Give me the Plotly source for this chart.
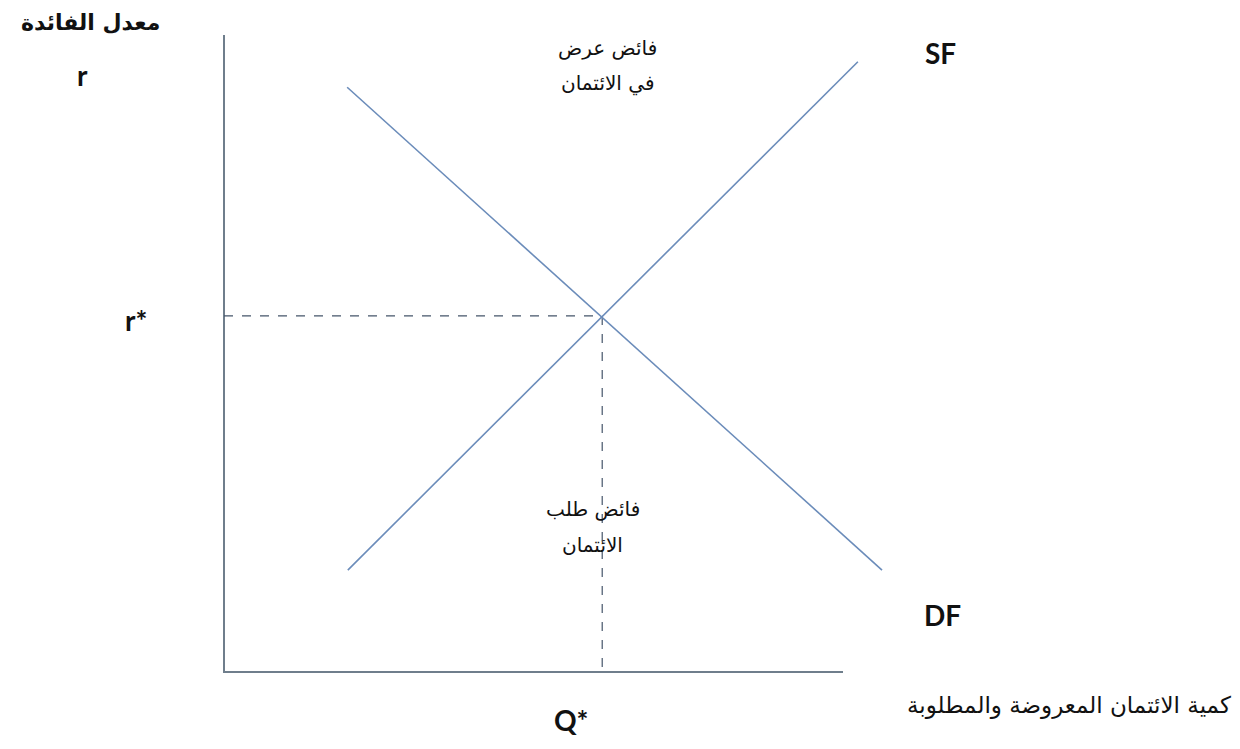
import plotly.graph_objects as go

# Economic units: quantity of credit (Q) and interest rate (r)
axis_q_max = 10.0
axis_r_max = 10.0

supply_q = [2.0, 10.24]
supply_r = [1.6, 9.58]

demand_q = [1.99, 10.63]
demand_r = [9.18, 1.6]

eq_q = 6.11
eq_r = 5.59

labels = {
    "y_title": "معدل الفائدة",
    "y_sym": "r",
    "r_star": "r*",
    "q_star": "Q*",
    "sf": "SF",
    "df": "DF",
    "x_title": "كمية الائتمان المعروضة والمطلوبة",
    "excess_supply": ["فائض عرض", "في الائتمان"],
    "excess_demand": ["فائض طلب", "الائتمان"],
}

curve_color = "#6b8cba"
axis_color = "#6f7e8c"
dash_color = "#45556a"

fig = go.Figure()

# axes
fig.add_trace(go.Scatter(x=[0, 0, axis_q_max], y=[axis_r_max, 0, 0], mode="lines",
                         line=dict(color=axis_color, width=2), hoverinfo="skip"))
# dashed guides
fig.add_trace(go.Scatter(x=[0, eq_q], y=[eq_r, eq_r], mode="lines",
                         line=dict(color=dash_color, width=1.2, dash="dash"), hoverinfo="skip"))
fig.add_trace(go.Scatter(x=[eq_q, eq_q], y=[eq_r, 0], mode="lines",
                         line=dict(color=dash_color, width=1.2, dash="dash"), hoverinfo="skip"))
# supply & demand
fig.add_trace(go.Scatter(x=supply_q, y=supply_r, mode="lines",
                         line=dict(color=curve_color, width=1.6), name="SF"))
fig.add_trace(go.Scatter(x=demand_q, y=demand_r, mode="lines",
                         line=dict(color=curve_color, width=1.6), name="DF"))

latin_bold = dict(family="Lato, Open Sans, sans-serif", size=28, color="#111111")
arabic_bold = dict(family="DejaVu Sans, sans-serif", size=22, color="#111111")
arabic_reg = dict(family="DejaVu Sans, sans-serif", size=20, color="#111111")
arabic_axis = dict(family="DejaVu Sans, sans-serif", size=23, color="#111111")

def ann(text, x, y, font, bold=False):
    fig.add_annotation(text=f"<b>{text}</b>" if bold else text, x=x, y=y, xref="x", yref="y",
                       showarrow=False, font=font, xanchor="center", yanchor="middle")

ann(labels["y_title"], -2.16, 10.2, arabic_bold, bold=True)
ann(labels["y_sym"], -2.29, 9.37, latin_bold, bold=True)
ann(labels["r_star"], -1.42, 5.53, latin_bold, bold=True)
ann(labels["sf"], 11.57, 9.72, latin_bold, bold=True)
ann(labels["df"], 11.6, 0.9, latin_bold, bold=True)
ann(labels["q_star"], 5.62, -0.75, latin_bold, bold=True)
ann(labels["x_title"], 13.65, -0.53, arabic_axis)
ann(labels["excess_supply"][0], 6.2, 9.79, arabic_reg)
ann(labels["excess_supply"][1], 6.2, 9.24, arabic_reg)
ann(labels["excess_demand"][0], 5.96, 2.56, arabic_reg)
ann(labels["excess_demand"][1], 5.96, 2.0, arabic_reg)

# pixel mapping (page body has an 8px margin)
sx, sy = 61.9, 63.7
W, H = 1232, 741
x0 = -(224 - 8) / sx
x1 = x0 + W / sx
y1 = (672 - 8) / sy
y0 = y1 - H / sy

fig.update_layout(
    width=W, height=H,
    margin=dict(l=0, r=0, t=0, b=0),
    paper_bgcolor="white", plot_bgcolor="white",
    showlegend=False,
    xaxis=dict(range=[x0, x1], visible=False, fixedrange=True),
    yaxis=dict(range=[y0, y1], visible=False, fixedrange=True),
)

fig.write_html("out.html")
